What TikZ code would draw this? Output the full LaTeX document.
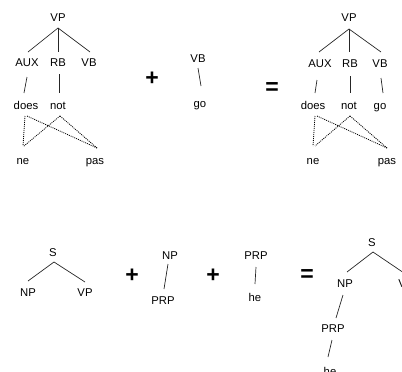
\documentclass[tikz,border=0pt]{standalone}
\usepackage{fontspec}
\setmainfont{Liberation Sans}
\usetikzlibrary{calc}
\begin{document}
\begin{tikzpicture}[x=1pt,y=-1pt,
  lbl/.style={inner sep=0pt, font=\fontsize{11.3}{13}\selectfont, text height=8pt, text depth=0pt},
  op/.style={inner sep=0pt, font=\fontsize{23}{25}\selectfont\bfseries},
  br/.style={line width=0.7pt, black!85},
  dt/.style={line width=0.8pt, black, dash pattern=on 1pt off 1pt}]
\useasboundingbox (0,0) rectangle (402,372);
\clip (0,0) rectangle (402,372);
% top-left tree
\node[lbl] (VP1) at (58,17) {VP};
\node[lbl] (AUX1) at (27,62) {AUX};
\node[lbl] (RB1) at (58,62) {RB};
\node[lbl] (VB1) at (89,62) {VB};
\node[lbl] (does1) at (26,105) {does};
\node[lbl] (not1) at (58,105) {not};
\node[lbl] (ne1) at (23,160) {ne};
\node[lbl] (pas1) at (95,160) {pas};
\draw[br] ($(VP1)+(0,11)$) -- ($(AUX1)+(1,-10)$);
\draw[br] ($(VP1)+(0,11)$) -- ($(RB1)+(0,-10)$);
\draw[br] ($(VP1)+(0,11)$) -- ($(VB1)+(1,-10)$);
\draw[br] ($(AUX1)+(0,15)$) -- ($(does1)+(-2,-12)$);
\draw[br] ($(RB1)+(1,12)$) -- ($(not1)+(1,-12)$);
\draw[dt] ($(does1)+(-1,11)$) -- ($(ne1)+(0,-14)$);
\draw[dt] ($(does1)+(1,11)$) -- ($(pas1)+(2,-12)$);
\draw[dt] ($(not1)+(2,11)$) -- ($(ne1)+(1,-14)$);
\draw[dt] ($(not1)+(2,11)$) -- ($(pas1)+(2,-12)$);
% plus and VB-go
\node[op] (plus1) at (152,79) {+};
\node[lbl] (VB2) at (198,58) {VB};
\node[lbl] (go2) at (200,103) {go};
\draw[br] ($(VB2)+(0,10)$) -- ($(go2)+(1,-17)$);
\node[op] (eq1) at (272,89) {=};
% top-right tree
\node[lbl] (VP3) at (349,17) {VP};
\node[lbl] (AUX3) at (320,63) {AUX};
\node[lbl] (RB3) at (350,63) {RB};
\node[lbl] (VB3) at (380,63) {VB};
\node[lbl] (does3) at (313,105) {does};
\node[lbl] (not3) at (349,105) {not};
\node[lbl] (go3) at (380,105) {go};
\node[lbl] (ne3) at (313,160) {ne};
\node[lbl] (pas3) at (387,160) {pas};
\draw[br] ($(VP3)+(0,12)$) -- ($(AUX3)+(-1,-11)$);
\draw[br] ($(VP3)+(0,12)$) -- ($(RB3)+(-1,-11)$);
\draw[br] ($(VP3)+(0,12)$) -- ($(VB3)+(1,-11)$);
\draw[br] ($(AUX3)+(-3,17)$) -- ($(does3)+(2,-12)$);
\draw[br] ($(RB3)+(0,13)$) -- ($(not3)+(1,-12)$);
\draw[br] ($(VB3)+(1,15)$) -- ($(go3)+(3,-12)$);
\draw[dt] ($(does3)+(2,11)$) -- ($(ne3)+(0,-14)$);
\draw[dt] ($(does3)+(4,11)$) -- ($(pas3)+(0,-12)$);
\draw[dt] ($(not3)+(1,11)$) -- ($(ne3)+(2,-14)$);
\draw[dt] ($(not3)+(1,11)$) -- ($(pas3)+(0,-12)$);
% bottom: S -> NP VP
\node[lbl] (S4) at (53,252) {S};
\node[lbl] (NP4) at (28,292) {NP};
\node[lbl] (VP4) at (85,292) {VP};
\draw[br] ($(S4)+(1,10)$) -- ($(NP4)+(0,-11)$);
\draw[br] ($(S4)+(1,10)$) -- ($(VP4)+(0,-10)$);
\node[op] (plus2) at (132,276) {+};
\node[lbl] (NP5) at (170,255) {NP};
\node[lbl] (PRP5) at (163,300) {PRP};
\draw[br] ($(NP5)+(-2,9)$) -- ($(PRP5)+(1,-11)$);
\node[op] (plus3) at (213,276) {+};
\node[lbl] (PRP6) at (256,255) {PRP};
\node[lbl] (he6) at (255,297) {he};
\draw[br] ($(PRP6)+(0,12)$) -- ($(he6)+(0,-13)$);
\node[op] (eq2) at (307,276) {=};
% result tree
\node[lbl] (S7) at (372,242) {S};
\node[lbl] (NP7) at (345,283) {NP};
\node[lbl] (VP7) at (406,283) {VP};
\node[lbl] (PRP7) at (333,328) {PRP};
\node[lbl] (he7) at (330,371) {he};
\draw[br] ($(S7)+(1,10)$) -- ($(NP7)+(2,-11)$);
\draw[br] ($(S7)+(1,10)$) -- ($(VP7)+(-2,-10)$);
\draw[br] ($(NP7)+(-2,12)$) -- ($(PRP7)+(3,-10)$);
\draw[br] ($(PRP7)+(-1,12)$) -- ($(he7)+(-2,-14)$);
\end{tikzpicture}
\end{document}
